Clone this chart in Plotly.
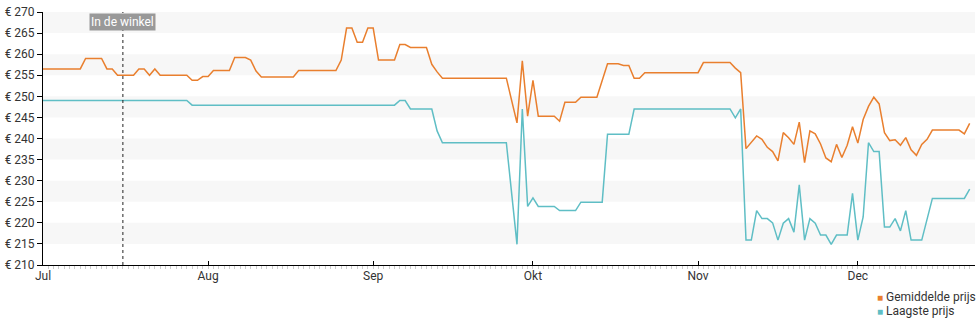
import plotly.graph_objects as go

# Average price (Gemiddelde prijs)
avg_dates = [
    "2023-07-01", "2023-07-08", "2023-07-09", "2023-07-12", "2023-07-13", "2023-07-14",
    "2023-07-15", "2023-07-18", "2023-07-19", "2023-07-20", "2023-07-21", "2023-07-22",
    "2023-07-23", "2023-07-28", "2023-07-29", "2023-07-30", "2023-07-31", "2023-08-01",
    "2023-08-02", "2023-08-05", "2023-08-06", "2023-08-08", "2023-08-09", "2023-08-10",
    "2023-08-11", "2023-08-17", "2023-08-18", "2023-08-25", "2023-08-26", "2023-08-27",
    "2023-08-28", "2023-08-29", "2023-08-30", "2023-08-31", "2023-09-01", "2023-09-02",
    "2023-09-05", "2023-09-06", "2023-09-07", "2023-09-08", "2023-09-11", "2023-09-12",
    "2023-09-13", "2023-09-14", "2023-09-26", "2023-09-28", "2023-09-29", "2023-09-30",
    "2023-10-01", "2023-10-02", "2023-10-05", "2023-10-06", "2023-10-07", "2023-10-09",
    "2023-10-10", "2023-10-13", "2023-10-15", "2023-10-17", "2023-10-18", "2023-10-19",
    "2023-10-20", "2023-10-21", "2023-10-22", "2023-11-01", "2023-11-02", "2023-11-07",
    "2023-11-08", "2023-11-09", "2023-11-10", "2023-11-11", "2023-11-12", "2023-11-13",
    "2023-11-14", "2023-11-15", "2023-11-16", "2023-11-17", "2023-11-18", "2023-11-19",
    "2023-11-20", "2023-11-21", "2023-11-22", "2023-11-23", "2023-11-24", "2023-11-25",
    "2023-11-26", "2023-11-27", "2023-11-28", "2023-11-29", "2023-11-30", "2023-12-01",
    "2023-12-02", "2023-12-03", "2023-12-04", "2023-12-05", "2023-12-06", "2023-12-07",
    "2023-12-08", "2023-12-09", "2023-12-10", "2023-12-11", "2023-12-12", "2023-12-13",
    "2023-12-14", "2023-12-15", "2023-12-20", "2023-12-21", "2023-12-22",
]
avg_values = [
    256.5, 256.5, 259.0, 259.0, 256.5, 256.5,
    255.0, 255.0, 256.5, 256.5, 255.0, 256.5,
    255.0, 255.0, 253.8, 253.8, 254.7, 254.7,
    256.1, 256.1, 259.2, 259.2, 258.6, 256.0,
    254.6, 254.6, 256.1, 256.1, 258.6, 266.2,
    266.2, 262.8, 262.8, 266.2, 266.2, 258.6,
    258.6, 262.3, 262.3, 261.6, 261.6, 257.6,
    255.8, 254.3, 254.3, 243.7, 258.4, 245.3,
    253.8, 245.3, 245.3, 244.1, 248.6, 248.6,
    249.8, 249.8, 257.7, 257.7, 257.3, 257.3,
    254.3, 254.3, 255.6, 255.6, 258.0, 258.0,
    256.7, 255.6, 237.6, 239.0, 240.6, 239.8,
    237.9, 236.9, 234.7, 241.4, 240.2, 238.6,
    243.9, 234.3, 241.8, 241.1, 238.7, 235.4,
    234.5, 238.6, 235.5, 238.4, 242.8, 238.9,
    244.5, 247.6, 249.8, 248.2, 241.4, 239.5,
    239.7, 238.4, 240.2, 237.3, 236.0, 238.6,
    239.8, 242.0, 242.0, 241.1, 243.6,
]

# Lowest price (Laagste prijs)
low_dates = [
    "2023-07-01", "2023-07-28", "2023-07-29", "2023-09-05", "2023-09-06", "2023-09-07",
    "2023-09-08", "2023-09-12", "2023-09-13", "2023-09-14", "2023-09-26", "2023-09-28",
    "2023-09-29", "2023-09-30", "2023-10-01", "2023-10-02", "2023-10-05", "2023-10-06",
    "2023-10-09", "2023-10-10", "2023-10-14", "2023-10-15", "2023-10-19", "2023-10-20",
    "2023-11-07", "2023-11-08", "2023-11-09", "2023-11-10", "2023-11-11", "2023-11-12",
    "2023-11-13", "2023-11-14", "2023-11-15", "2023-11-16", "2023-11-17", "2023-11-18",
    "2023-11-19", "2023-11-20", "2023-11-21", "2023-11-22", "2023-11-23", "2023-11-24",
    "2023-11-25", "2023-11-26", "2023-11-27", "2023-11-29", "2023-11-30", "2023-12-01",
    "2023-12-02", "2023-12-03", "2023-12-04", "2023-12-05", "2023-12-06", "2023-12-07",
    "2023-12-08", "2023-12-09", "2023-12-10", "2023-12-11", "2023-12-13", "2023-12-15",
    "2023-12-21", "2023-12-22",
]
low_values = [
    249.0, 249.0, 247.9, 247.9, 249.0, 249.0,
    247.0, 247.0, 241.8, 239.0, 239.0, 214.9,
    247.0, 223.9, 225.9, 223.9, 223.9, 222.9,
    222.9, 224.9, 224.9, 241.0, 241.0, 247.0,
    247.0, 244.9, 247.0, 215.9, 215.9, 222.9,
    221.0, 221.0, 220.0, 215.9, 219.9, 221.0,
    217.8, 229.0, 215.9, 221.0, 219.9, 217.1,
    217.1, 214.9, 217.1, 217.1, 227.0, 215.9,
    221.4, 239.0, 236.9, 236.9, 219.0, 219.0,
    221.0, 218.1, 222.9, 215.9, 215.9, 225.8,
    225.8, 228.0,
]

month_ticks = ["2023-07-01", "2023-08-01", "2023-09-01", "2023-10-01", "2023-11-01", "2023-12-01"]
month_labels = ["Jul", "Aug", "Sep", "Okt", "Nov", "Dec"]
y_ticks = [210, 215, 220, 225, 230, 235, 240, 245, 250, 255, 260, 265, 270]
y_labels = ["€ %d" % v for v in y_ticks]
shaded_bands = [(215, 220), (225, 230), (235, 240), (245, 250), (255, 260), (265, 270)]
store_date = "2023-07-16"
x_range = ["2023-07-01", "2023-12-23"]

ORANGE = "#e97f2e"
TEAL = "#5fbec5"

fig = go.Figure()
fig.add_trace(go.Scatter(x=low_dates, y=low_values, mode="lines", name="Laagste prijs",
                         line=dict(color=TEAL, width=1.5), showlegend=False))
fig.add_trace(go.Scatter(x=avg_dates, y=avg_values, mode="lines", name="Gemiddelde prijs",
                         line=dict(color=ORANGE, width=1.5), showlegend=False))

shapes = []
for lo, hi in shaded_bands:
    shapes.append(dict(type="rect", xref="paper", yref="y", x0=0, x1=1, y0=lo, y1=hi,
                       fillcolor="#f7f7f7", line=dict(width=0), layer="below"))
shapes.append(dict(type="line", xref="x", yref="paper", x0=store_date, x1=store_date, y0=0, y1=1,
                   line=dict(color="#222222", width=1, dash="dot")))

annotations = [
    dict(x=store_date, y=267.6, xref="x", yref="y", text="In de winkel", showarrow=False,
         font=dict(color="white", size=12, family="Roboto"), bgcolor="#999999",
         borderpad=1, xanchor="center", yanchor="middle"),
    dict(x=0.893, y=-0.125, xref="paper", yref="paper", xanchor="left", yanchor="middle",
         showarrow=False, align="left",
         text="<span style='color:%s;font-size:10px'>■</span> Gemiddelde prijs" % ORANGE,
         font=dict(color="#333333", size=12, family="Roboto")),
    dict(x=0.893, y=-0.18, xref="paper", yref="paper", xanchor="left", yanchor="middle",
         showarrow=False, align="left",
         text="<span style='color:%s;font-size:10px'>■</span> Laagste prijs" % TEAL,
         font=dict(color="#333333", size=12, family="Roboto")),
]

fig.update_layout(
    width=980, height=325,
    margin=dict(l=40, r=5, t=10, b=60),
    paper_bgcolor="white", plot_bgcolor="white",
    font=dict(family="Roboto", size=12, color="#333333"),
    shapes=shapes, annotations=annotations,
    showlegend=False,
)
fig.update_xaxes(
    type="date", range=x_range, tickvals=month_ticks, ticktext=month_labels,
    showgrid=False, zeroline=False, showline=True, linecolor="#000000", linewidth=1,
    ticks="inside", ticklen=4, tickcolor="#000000",
    tickfont=dict(size=12, color="#333333"),
    minor=dict(ticks="outside", ticklen=3, tickcolor="#cccccc", dtick=86400000, showgrid=False),
)
fig.update_yaxes(
    range=[210, 270], tickvals=y_ticks, ticktext=y_labels,
    showgrid=False, zeroline=False, showline=True, linecolor="#000000", linewidth=1,
    ticks="outside", ticklen=5, tickcolor="#000000",
    tickfont=dict(size=12, color="#333333"),
)

fig.write_html("out.html")
